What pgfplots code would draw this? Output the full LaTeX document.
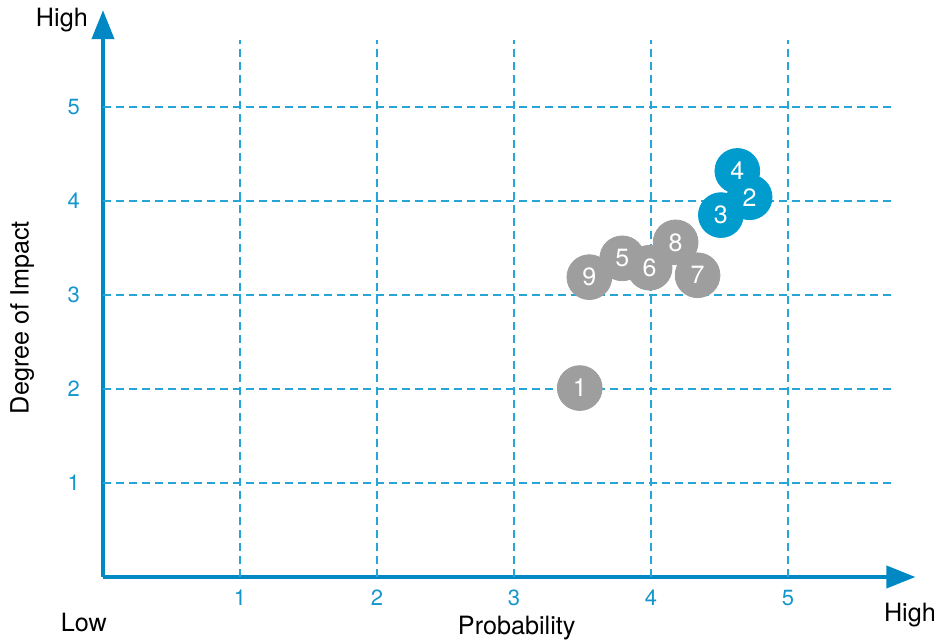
\documentclass[border=0pt]{standalone}
\usepackage{fontspec}
\setmainfont{TeX Gyre Heros}
\usepackage{pgfplots}
\pgfplotsset{compat=1.18}
\usetikzlibrary{arrows.meta}

\definecolor{axisblue}{RGB}{0,136,196}
\definecolor{gridblue}{RGB}{40,165,215}
\definecolor{tickblue}{RGB}{20,150,205}
\definecolor{bubblegray}{RGB}{158,158,158}
\definecolor{bubbleblue}{RGB}{0,156,206}

\pgfplotstableread{
x     y     id
3.48  2.01  1
3.79  3.39  5
3.55  3.19  9
3.99  3.29  6
4.18  3.56  8
4.34  3.21  7
}\grayrisks
\pgfplotstableread{
x     y     id
4.63  4.32  4
4.72  4.04  2
4.51  3.85  3
}\bluerisks

\begin{document}
\begin{tikzpicture}
\useasboundingbox (-51.5pt,-33pt) rectangle (417pt,288.5pt);
\begin{axis}[
    at={(0pt,0pt)}, anchor=south west,
    scale only axis,
    width=406.2pt, height=283.4pt,
    xmin=0, xmax=5.93,
    ymin=0, ymax=6.03,
    axis x line*=bottom,
    axis y line*=left,
    axis line style={draw=axisblue, line width=2pt, -{Triangle[length=14.5pt,width=11pt]}},
    xtick={1,2,3,4,5},
    ytick={1,2,3,4,5},
    major tick length=0pt,
    tick label style={text=tickblue, font=\fontsize{11}{13}\selectfont},
    /pgf/number format/assume math mode=true,
    xticklabel style={yshift=-3pt},
    yticklabel style={xshift=-8pt},
    clip=false,
]

% dashed grid
\foreach \v in {1,2,3,4,5} {
    \edef\tmp{\noexpand\draw[gridblue, line width=0.6pt, dash pattern=on 4pt off 2.5pt]
        (axis cs:\v,0) -- (axis cs:\v,5.71);
      \noexpand\draw[gridblue, line width=0.6pt, dash pattern=on 4pt off 2.5pt]
        (axis cs:0,\v) -- (axis cs:5.75,\v);}
    \tmp
}

% bubbles
\addplot[only marks, mark=*, mark size=11.2pt, color=bubblegray,
    mark options={fill=bubblegray, draw=bubblegray, line width=0.4pt}]
    table[x=x, y=y] {\grayrisks};
\addplot[only marks, mark=*, mark size=11.2pt, color=bubbleblue,
    mark options={fill=bubbleblue, draw=bubbleblue, line width=0.4pt}]
    table[x=x, y=y] {\bluerisks};

% numbers on top of all bubbles
\pgfplotsset{numbers/.style={draw=none, mark=none,
    point meta=explicit symbolic, nodes near coords,
    nodes near coords align=center,
    every node near coord/.append style={anchor=center, text=white,
        font=\fontsize{12.5}{14}\selectfont}}}
\addplot[numbers] table[x=x, y=y, meta=id] {\grayrisks};
\addplot[numbers] table[x=x, y=y, meta=id] {\bluerisks};

\node[font=\fontsize{12.6}{15}\selectfont] at (axis cs:-0.30,5.93) {High};
\node[font=\fontsize{12.6}{15}\selectfont] at (axis cs:-0.14,-0.48) {Low};
\node[font=\fontsize{12.6}{15}\selectfont] at (axis cs:5.89,-0.40) {High};
\node[font=\fontsize{12.6}{15}\selectfont] at (axis cs:3.02,-0.54) {Probability};
\node[font=\fontsize{12.6}{15}\selectfont, rotate=90] at (axis cs:-0.59,2.76) {Degree of Impact};
\end{axis}
\end{tikzpicture}
\end{document}
